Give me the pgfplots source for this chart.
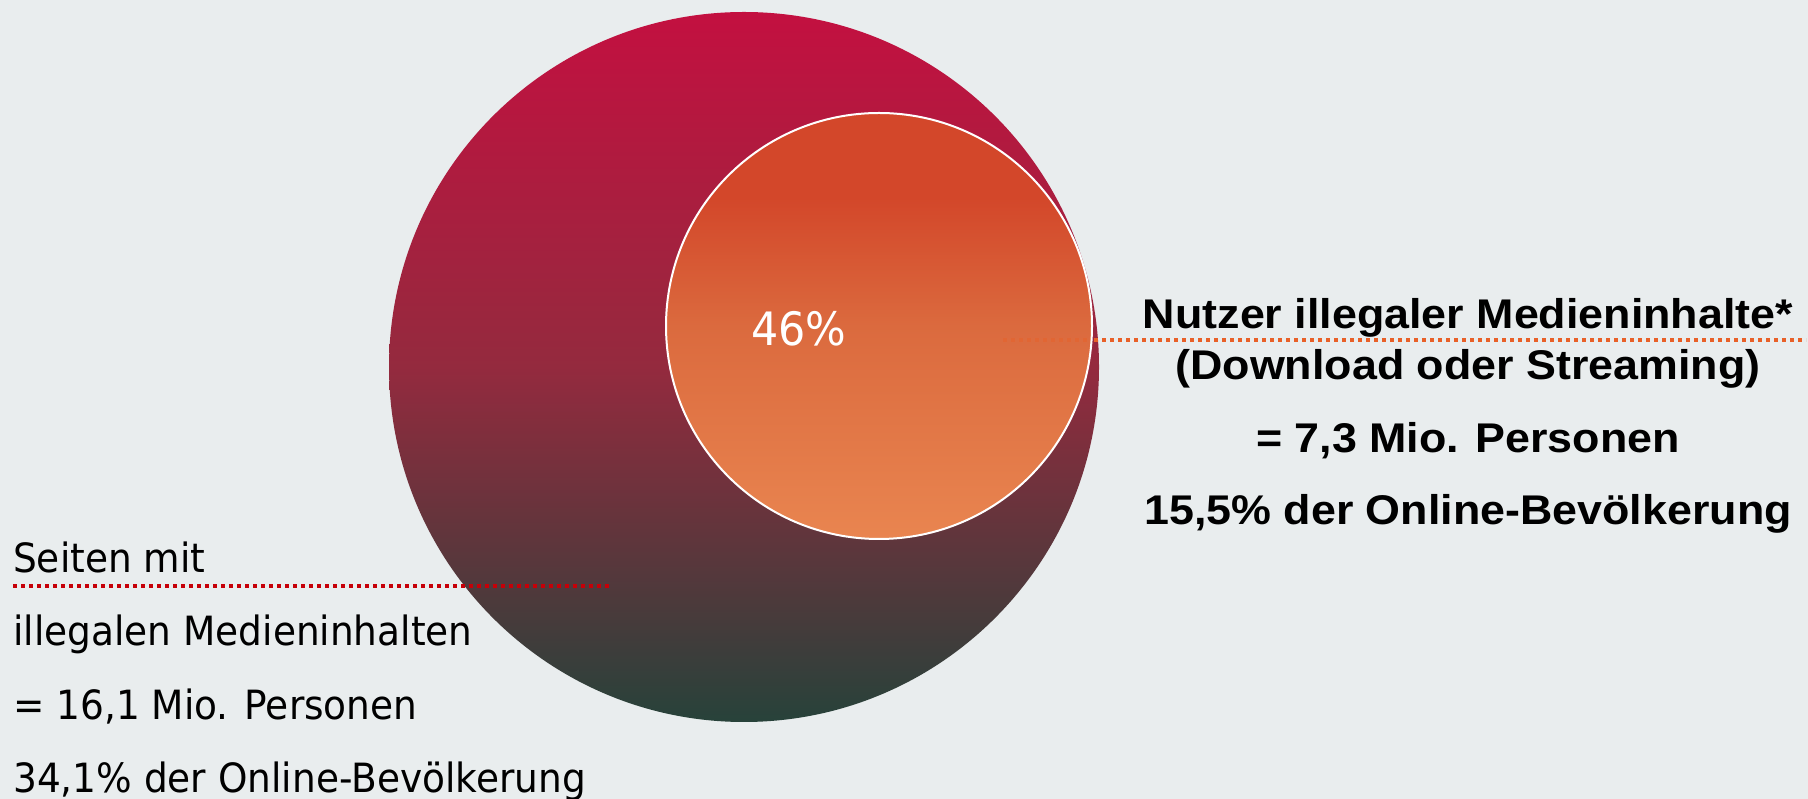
\documentclass[border=0pt]{standalone}
\usepackage{pgfplots}
\pgfplotsset{compat=1.18}
\usepackage{fontspec}
\setmainfont{DejaVu Sans}[FakeStretch=0.93]
\newfontfamily\rfont{Liberation Sans}[FakeStretch=1.08]

\definecolor{bg}{RGB}{233,237,238}
\definecolor{bigtop}{RGB}{195,16,64}
\definecolor{bigmid}{RGB}{148,42,62}
\definecolor{bigbot}{RGB}{39,66,58}
\definecolor{smalltop}{RGB}{211,71,42}
\definecolor{smallmid}{RGB}{219,106,62}
\definecolor{smallbot}{RGB}{233,133,80}
\definecolor{redline}{RGB}{198,0,8}
\definecolor{orangeline}{RGB}{232,96,40}

\pgfdeclareverticalshading{bigshade}{100bp}{color(0bp)=(bigbot); color(25bp)=(bigbot); color(50bp)=(bigmid); color(75bp)=(bigtop); color(100bp)=(bigtop)}
\pgfdeclareverticalshading{smallshade}{100bp}{color(0bp)=(smallbot); color(25bp)=(smallbot); color(50bp)=(smallmid); color(65bp)=(smalltop); color(100bp)=(smalltop)}

\pgfdeclareplotmark{bigdisc}{%
  \pgfpathcircle{\pgfpointorigin}{\pgfplotmarksize}%
  \pgfshadepath{bigshade}{0}%
  \pgfusepath{discard}%
}
\pgfdeclareplotmark{smalldisc}{%
  \pgfpathcircle{\pgfpointorigin}{\pgfplotmarksize}%
  \pgfshadepath{smallshade}{0}%
  \pgfusepath{stroke}%
}

\begin{document}
\begin{tikzpicture}
\begin{axis}[
  at={(0,0)}, anchor=south west,
  scale only axis, width=1808bp, height=799bp,
  xmin=0, xmax=1808, ymin=0, ymax=799,
  hide axis, clip=false,
  before end axis/.code={},
  after end axis/.code={%
    \draw[redline, line width=3.4bp, dash pattern=on 4bp off 4bp]
      (axis cs:13,213) -- (axis cs:609,213);
    \draw[orangeline, opacity=0.45, line width=3.4bp, dash pattern=on 4bp off 4bp]
      (axis cs:1003,459) -- (axis cs:1090,459);
    \draw[orangeline, line width=3.4bp, dash pattern=on 4bp off 4bp]
      (axis cs:1094,459) -- (axis cs:1806,459);
    \node[text=white, inner sep=0pt, anchor=base, font=\fontsize{46bp}{52bp}\selectfont]
      at (axis cs:799,453) {46\%};
    \begin{scope}[every node/.style={inner sep=0pt, anchor=base west, font=\fontsize{40.3bp}{48bp}\selectfont}]
      \node at (axis cs:13,226) {Seiten mit};
      \node at (axis cs:13,153) {illegalen Medieninhalten};
      \node at (axis cs:13,79) {= 16,1 Mio. Personen};
      \node at (axis cs:13,7) {34,1\% der Online-Bevölkerung};
    \end{scope}
    \begin{scope}[every node/.style={inner sep=0pt, anchor=base, font=\rfont\bfseries\fontsize{41.5bp}{48bp}\selectfont}]
      \node at (axis cs:1468,470) {Nutzer illegaler Medieninhalte*};
      \node at (axis cs:1468,419) {(Download oder Streaming)};
      \node at (axis cs:1468,346) {= 7,3 Mio. Personen};
      \node at (axis cs:1468,274) {15,5\% der Online-Bevölkerung};
    \end{scope}
  },
]
\fill[bg] (axis cs:0,0) rectangle (axis cs:1808,799);

% Seiten mit illegalen Medieninhalten: 16,1 Mio.
\addplot[only marks, mark=bigdisc, mark size=355bp] coordinates {(744,432)};
% Nutzer illegaler Medieninhalte: 7,3 Mio. (46%)
\addplot[only marks, mark=smalldisc, mark size=213bp,
  mark options={draw=white, line width=2bp}] coordinates {(879,473)};
\end{axis}
\pgfresetboundingbox
\useasboundingbox (0,0) rectangle (1808bp,799bp);
\end{tikzpicture}
\end{document}
